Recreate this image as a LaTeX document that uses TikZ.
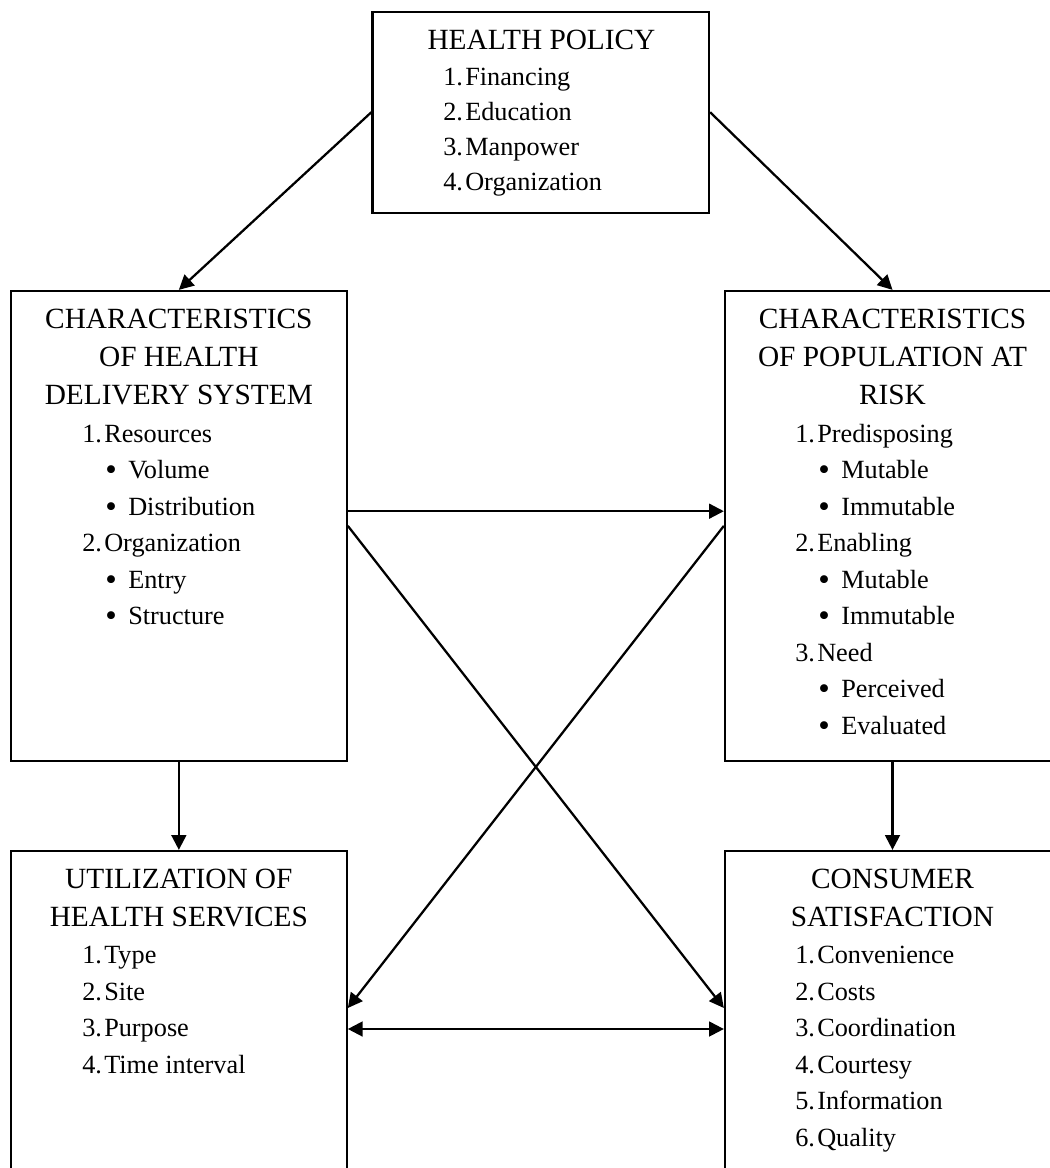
\documentclass[tikz,border=0pt]{standalone}
\usepackage{fontspec}
\usepackage{graphicx}
\setmainfont{Liberation Serif}
\usetikzlibrary{arrows.meta,fit}
\newcommand\hdfont{\fontsize{22}{26}\selectfont}
\newcommand\lsfont{\fontsize{19.7}{24}\selectfont}
% numbered and bulleted entries
\newcommand\numlbl[2]{\makebox[16.5pt][l]{#1}#2}
\newcommand\bul[1]{\makebox[17.25pt][l]{\raisebox{-1.3pt}{\scalebox{1.25}{•}}}#1}
\tikzset{
  box/.style={draw, line width=1.7pt, inner sep=0pt},
  hd/.style={anchor=base, inner sep=0pt, font=\hdfont},
  li/.style={anchor=base west, inner sep=0pt, font=\lsfont},
  arr/.style={line width=1.7pt, -{Triangle[length=11pt,width=11pt]}},
  darr/.style={line width=1.7pt, {Triangle[length=11pt,width=11pt]}-{Triangle[length=11pt,width=11pt]}},
}
\begin{document}
\begin{tikzpicture}[x=0.75pt,y=-0.75pt]
\useasboundingbox (0,0) rectangle (1050,1168);
\clip (0,0) rectangle (1050,1168);

% boxes
\coordinate (hpA) at (372.5,11.7);  \coordinate (hpB) at (709,212.7);
\coordinate (csA) at (11,291);      \coordinate (csB) at (346.7,760.7);
\coordinate (cpA) at (725,291);     \coordinate (cpB) at (1060,760.7);
\coordinate (utA) at (11,851);      \coordinate (utB) at (346.7,1207);
\coordinate (satA) at (725,851);    \coordinate (satB) at (1060,1207);
\node[box, fit=(hpA)(hpB)] (hp) {};
\node[box, fit=(csA)(csB)] (cs) {};
\node[box, fit=(cpA)(cpB)] (cp) {};
\node[box, fit=(utA)(utB)] (ut) {};
\node[box, fit=(satA)(satB)] (sat) {};

% health policy
\node[hd] (hp-h) at (541.5,49.3) {HEALTH POLICY};
\node[li] (hp-1) at (443,85) {\numlbl{1.}{Financing}};
\node[li] (hp-2) at (443,120.3) {\numlbl{2.}{Education}};
\node[li] (hp-3) at (443,155.6) {\numlbl{3.}{Manpower}};
\node[li] (hp-4) at (443,190.9) {\numlbl{4.}{Organization}};

% health delivery system
\node[hd] (cs-h1) at (178.85,328.3) {CHARACTERISTICS};
\node[hd] (cs-h2) at (178.85,366.6) {OF HEALTH};
\node[hd] (cs-h3) at (178.85,404.9) {DELIVERY SYSTEM};
\node[li] (cs-1) at (82,442.3) {\numlbl{1.}{Resources}};
\node[li] (cs-2) at (105,478.8) {\bul{Volume}};
\node[li] (cs-3) at (105,515.3) {\bul{Distribution}};
\node[li] (cs-4) at (82,551.8) {\numlbl{2.}{Organization}};
\node[li] (cs-5) at (105,588.3) {\bul{Entry}};
\node[li] (cs-6) at (105,624.8) {\bul{Structure}};

% population at risk
\node[hd] (cp-h1) at (892.5,328.3) {CHARACTERISTICS};
\node[hd] (cp-h2) at (892.5,366.6) {OF POPULATION AT};
\node[hd] (cp-h3) at (892.5,404.9) {RISK};
\node[li] (cp-1) at (795,442.3) {\numlbl{1.}{Predisposing}};
\node[li] (cp-2) at (818,478.8) {\bul{Mutable}};
\node[li] (cp-3) at (818,515.3) {\bul{Immutable}};
\node[li] (cp-4) at (795,551.8) {\numlbl{2.}{Enabling}};
\node[li] (cp-5) at (818,588.3) {\bul{Mutable}};
\node[li] (cp-6) at (818,624.8) {\bul{Immutable}};
\node[li] (cp-7) at (795,661.3) {\numlbl{3.}{Need}};
\node[li] (cp-8) at (818,697.8) {\bul{Perceived}};
\node[li] (cp-9) at (818,734.3) {\bul{Evaluated}};

% utilization
\node[hd] (ut-h1) at (178.85,888.3) {UTILIZATION OF};
\node[hd] (ut-h2) at (178.85,926.6) {HEALTH SERVICES};
\node[li] (ut-1) at (82,963.9) {\numlbl{1.}{Type}};
\node[li] (ut-2) at (82,1000.4) {\numlbl{2.}{Site}};
\node[li] (ut-3) at (82,1036.9) {\numlbl{3.}{Purpose}};
\node[li] (ut-4) at (82,1073.4) {\numlbl{4.}{Time interval}};

% consumer satisfaction
\node[hd] (sat-h1) at (892.5,888.3) {CONSUMER};
\node[hd] (sat-h2) at (892.5,926.6) {SATISFACTION};
\node[li] (sat-1) at (795,963.9) {\numlbl{1.}{Convenience}};
\node[li] (sat-2) at (795,1000.4) {\numlbl{2.}{Costs}};
\node[li] (sat-3) at (795,1036.9) {\numlbl{3.}{Coordination}};
\node[li] (sat-4) at (795,1073.4) {\numlbl{4.}{Courtesy}};
\node[li] (sat-5) at (795,1109.9) {\numlbl{5.}{Information}};
\node[li] (sat-6) at (795,1146.4) {\numlbl{6.}{Quality}};

% connectors
\draw[arr] (hp.west) -- (cs.north);
\draw[arr] (hp.east) -- (cp.north);
\draw[arr] (cs.south) -- (ut.north);
\draw[arr] (cp.south) -- (sat.north);
\draw[arr] ([yshift=11pt]cs.east) -- ([yshift=11pt]cp.west);
\draw[arr] (cs.east) -- ([yshift=15.75pt]sat.west);
\draw[arr] (cp.west) -- ([yshift=15.75pt]ut.east);
\draw[darr] (ut.east) -- (sat.west);
\end{tikzpicture}
\end{document}
